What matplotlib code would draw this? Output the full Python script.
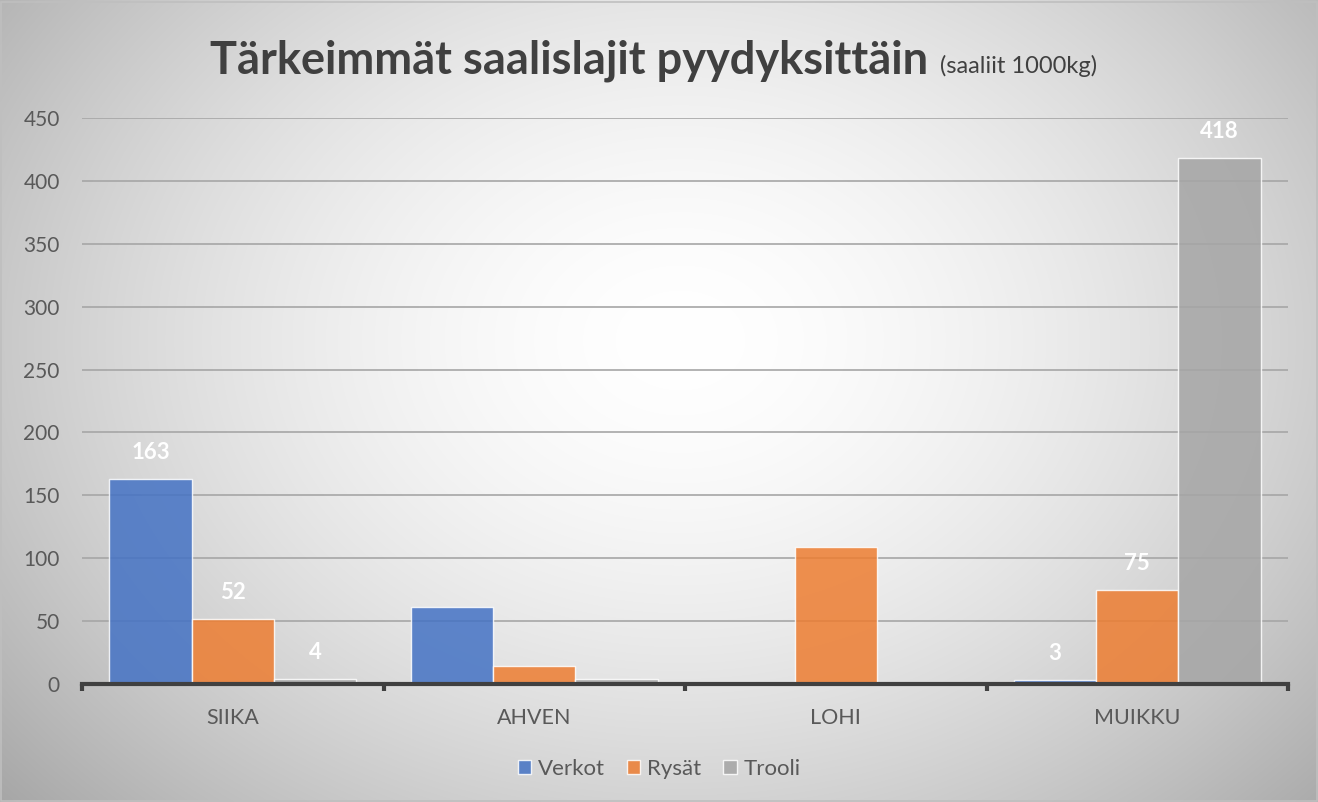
import numpy as np
import matplotlib.pyplot as plt

categories = ["SIIKA", "AHVEN", "LOHI", "MUIKKU"]
series_names = ["Verkot", "Rysät", "Trooli"]
verkot = [163, 61, 0, 3]
rysat = [52, 14, 109, 75]
trooli = [4, 4, 0, 418]
labelled = ["SIIKA", "MUIKKU"]

colors = ["#4472C4", "#ED7D31", "#A5A5A5"]
plt.rcParams['font.family'] = ['Lato', 'DejaVu Sans']

fig = plt.figure(figsize=(13.18, 8.02), dpi=100)

# radial gradient background
bg = fig.add_axes([0, 0, 1, 1], zorder=-10)
yy, xx = np.mgrid[0:802, 0:1318]
r = np.sqrt(((xx - 680) / 780.0) ** 2 + ((yy - 340) / 600.0) ** 2)
shade = 1.0 - 0.27 * np.clip(r, 0, 1.2) ** 1.7
bg.imshow(np.dstack([shade] * 3), aspect='auto', extent=[0, 1, 0, 1], interpolation='bilinear')
bg.set_xlim(0, 1)
bg.set_ylim(0, 1)
bg.axis('off')
fig.patches.append(plt.Rectangle((0.001, 0.001), 0.998, 0.997, transform=fig.transFigure,
                                 fill=False, edgecolor="#bfbfbf", lw=1.2))

ax = fig.add_axes([82 / 1318, 1 - 684 / 802, (1288 - 82) / 1318, 566 / 802])
ax.patch.set_alpha(0)

x = np.arange(len(categories))
w = 0.273
bars = []
for i, (vals, name) in enumerate(zip([verkot, rysat, trooli], series_names)):
    b = ax.bar(x + (i - 1) * w, vals, w, color=colors[i], alpha=0.85,
               edgecolor=(1, 1, 1, 0.6), linewidth=1.0, label=name, zorder=3)
    bars.append(b)
    for xi, v, cat in zip(x, vals, categories):
        if cat in labelled:
            ax.annotate(str(v), (xi + (i - 1) * w, v), xytext=(0, 19), textcoords='offset points',
                        ha='center', va='center', color='white', fontsize=16, fontweight='bold', zorder=5)

ax.set_ylim(0, 450)
ax.set_xlim(-0.5, 3.5)
ax.set_yticks(range(0, 451, 50))
ax.yaxis.grid(True, color="#a6a6a6", lw=1.2, zorder=0)
ax.set_axisbelow(True)
for s in ["top", "right", "left"]:
    ax.spines[s].set_visible(False)
ax.spines["bottom"].set_color("#404040")
ax.spines["bottom"].set_linewidth(3)
ax.spines["bottom"].set_zorder(4)

ax.set_xticks(x)
ax.set_xticklabels(categories)
ax.set_xticks(np.arange(-0.5, 4, 1), minor=True)
ax.tick_params(axis='x', which='major', length=0, pad=17, labelsize=15.5, labelcolor="#595959")
ax.tick_params(axis='x', which='minor', length=5, width=3, color="#404040")
ax.tick_params(axis='y', length=0, pad=16, labelsize=15, labelcolor="#595959")

fig.text(928 / 1318, 1 - 73 / 802, "Tärkeimmät saalislajit pyydyksittäin", ha='right', va='baseline',
         fontsize=32.5, fontweight='bold', color="#404040")
fig.text(940 / 1318, 1 - 73 / 802, "(saaliit 1000kg)", ha='left', va='baseline',
         fontsize=17, color="#404040")

fig.legend(handles=bars, labels=series_names, loc='center', bbox_to_anchor=(0.5, 1 - 769 / 802),
           ncol=3, frameon=False, fontsize=16, handlelength=0.6, handleheight=0.6,
           handletextpad=0.3, columnspacing=1.0, labelcolor="#595959")

fig.savefig("out.png", dpi=100)
